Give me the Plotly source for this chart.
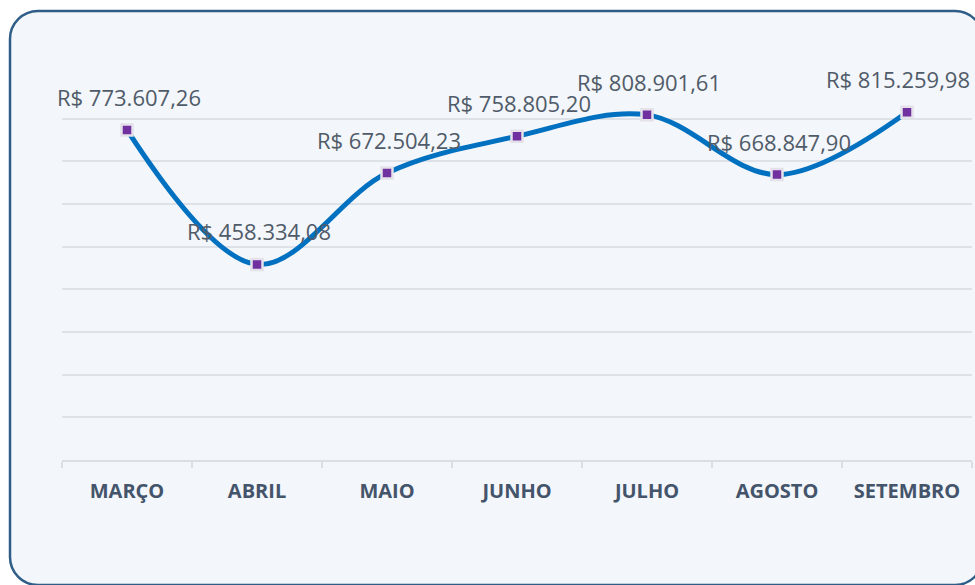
import plotly.graph_objects as go

meses = ["MARÇO", "ABRIL", "MAIO", "JUNHO", "JULHO", "AGOSTO", "SETEMBRO"]
valores = [773607.26, 458334.08, 672504.23, 758805.20, 808901.61, 668847.90, 815259.98]


def brl(v):
    s = f"{v:,.2f}".replace(",", "X").replace(".", ",").replace("X", ".")
    return "R$ " + s


W, H = 975, 585
L, R, T, B = 62, 3, 76, 125
pw, ph = W - L - R, H - T - B


def px2paper(x, y):
    return (x - L) / pw, (H - B - y) / ph


def rounded_rect(x0, y0, x1, y1, r):
    k = 0.5523 * r
    def P(x, y):
        a, b = px2paper(x, y)
        return f"{a:.5f},{b:.5f}"
    d = f"M {P(x0 + r, y0)} L {P(x1 - r, y0)} "
    d += f"C {P(x1 - r + k, y0)} {P(x1, y0 + r - k)} {P(x1, y0 + r)} "
    d += f"L {P(x1, y1 - r)} "
    d += f"C {P(x1, y1 - r + k)} {P(x1 - r + k, y1)} {P(x1 - r, y1)} "
    d += f"L {P(x0 + r, y1)} "
    d += f"C {P(x0 + r - k, y1)} {P(x0, y1 - r + k)} {P(x0, y1 - r)} "
    d += f"L {P(x0, y0 + r)} "
    d += f"C {P(x0, y0 + r - k)} {P(x0 + r - k, y0)} {P(x0 + r, y0)} Z"
    return d


fig = go.Figure()
fig.add_trace(go.Scatter(
    x=meses, y=valores, mode="lines+markers",
    line=dict(color="#0070c0", width=5, shape="spline", smoothing=1.0),
    marker=dict(symbol="square", size=11, color="#7030a0",
                line=dict(color="#e4e1ea", width=2.5)),
    hoverinfo="skip", cliponaxis=False,
))

for i, (m, v) in enumerate(zip(meses, valores)):
    fig.add_annotation(
        x=m, y=v, text=brl(v), showarrow=False,
        yshift=33, xshift=(-9 if i == len(meses) - 1 else 2),
        font=dict(family="Open Sans", size=22, color="#505b69"),
        xanchor="center", yanchor="middle",
    )

fig.add_shape(
    type="path", xref="paper", yref="paper", layer="below",
    path=rounded_rect(10, 11, 983, 585, 28),
    fillcolor="#f3f6fa", line=dict(color="#2f5d87", width=2.5),
)

fig.update_layout(
    width=W, height=H,
    margin=dict(l=L, r=R, t=T, b=B),
    paper_bgcolor="#ffffff", plot_bgcolor="rgba(0,0,0,0)",
    showlegend=False,
    xaxis=dict(
        type="category", range=[-0.5, len(meses) - 0.5],
        tickson="boundaries", ticks="outside", ticklen=6,
        tickcolor="#dadee5", tickwidth=2,
        showline=True, linecolor="#dadee5", linewidth=2,
        showgrid=False, ticklabelstandoff=12,
        tickfont=dict(family="Open Sans", size=20, color="#44546a", weight="bold"),
        fixedrange=True,
    ),
    yaxis=dict(
        range=[0, 900000], dtick=100000, showticklabels=False,
        showgrid=True, gridcolor="#dde1e8", gridwidth=2,
        zeroline=False, showline=False, fixedrange=True,
    ),
)

fig.write_html(
    "out.html",
    config={"displayModeBar": False},
    post_script="document.body.style.margin='0';document.body.style.overflow='hidden';",
)
